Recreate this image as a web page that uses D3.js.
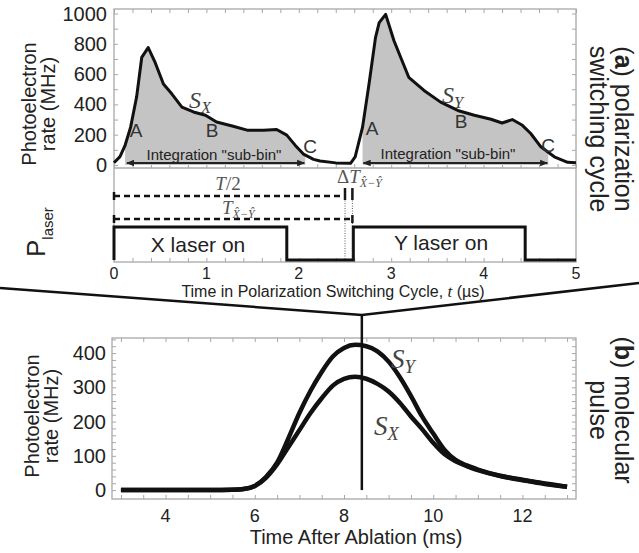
<!DOCTYPE html>
<html><head><meta charset="utf-8">
<script src="https://cdn.jsdelivr.net/npm/d3@7"></script>
<style>body{margin:0;background:#fff}svg{display:block}</style>
</head><body>
<svg id="c" width="639" height="553"></svg>
<script>
// ---- Data: panel (a) polarization switching cycle ----
const timeTop = [0, 0.065, 0.12, 0.18, 0.245, 0.30, 0.37, 0.445, 0.535, 0.625, 0.735, 0.86, 0.99, 1.11, 1.29, 1.44, 1.62, 1.76, 1.87, 1.96, 2.05, 2.16, 2.23, 2.40, 2.56, 2.61, 2.69, 2.76, 2.83, 2.87, 2.94, 3.03, 3.19, 3.355, 3.535, 3.72, 3.90, 4.08, 4.20, 4.31, 4.42, 4.51, 4.62, 4.765, 4.91, 5.0];
const rateTop = [15, 55, 130, 250, 450, 710, 775, 677, 535, 470, 382, 350, 328, 284, 256, 230, 230, 234, 197, 131, 72, 37, 26, 14, 11, 54, 250, 535, 841, 940, 994, 820, 579, 492, 415, 360, 328, 302, 277, 300, 262, 208, 120, 54, 18, 15];
const subBinX = [0.12, 2.07];
const subBinY = [2.69, 4.70];
const laserT = [0, 0, 1.87, 1.87, 2.59, 2.59, 4.45, 4.45, 5];
const laserP = [0, 1, 1, 0, 0, 1, 1, 0, 0];
const halfPeriod = 2.5;
const tXY = 2.58;
const topXTicks = [0, 1, 2, 3, 4, 5];
const topYTicks = [0, 200, 400, 600, 800, 1000];
// ---- Data: panel (b) molecular pulse ----
const timeB = [3, 4, 5, 5.5, 5.75, 6, 6.25, 6.5, 6.75, 7, 7.25, 7.5, 7.75, 8, 8.25, 8.5, 8.75, 9, 9.25, 9.5, 9.75, 10, 10.25, 10.5, 10.75, 11, 11.5, 12, 12.5, 13];
const sY = [0, 0, 0, 1, 3, 12, 38, 80, 150, 225, 290, 345, 390, 415, 424, 420, 405, 375, 330, 275, 215, 165, 118, 88, 72, 60, 42, 30, 19, 10];
const sX = [0, 0, 0, 1, 3, 12, 36, 75, 125, 175, 225, 268, 305, 325, 331, 325, 310, 288, 255, 215, 178, 138, 105, 84, 70, 58, 41, 29, 18, 10];
const markTime = 8.4;
const botXTicks = [4, 6, 8, 10, 12];
const botYTicks = [0, 100, 200, 300, 400];

const svg = d3.select("#c");
svg.append("rect").attr("width",639).attr("height",553).attr("fill","#fff");
const SANS = "Liberation Sans, Arial, Helvetica, sans-serif";
const SERIF = "Liberation Serif, Times New Roman, serif";
const frameCol = "#a8a8a8";

// ---------- Panel (a) ----------
const L = 114, R = 576, T0 = 9, DIV = 168, B0 = 262;
const xA = d3.scaleLinear().domain([0, 5]).range([L, R]);
const yA = d3.scaleLinear().domain([0, 1000]).range([165, 13.5]);
const yP = d3.scaleLinear().domain([0, 1]).range([260, 227]);

const gA = svg.append("g");
function ticksAxis(g, axis, tx, ty){
  const a = g.append("g").attr("transform",`translate(${tx},${ty})`).call(axis);
  a.select(".domain").remove();
  a.selectAll(".tick line").attr("stroke", frameCol).attr("stroke-width",1);
  return a;
}
const minorA = d3.range(0, 5.001, 0.2);
ticksAxis(gA, d3.axisTop(xA).tickValues(minorA).tickSize(-4).tickFormat(""), 0, T0);
ticksAxis(gA, d3.axisBottom(xA).tickValues(minorA).tickSize(-4).tickFormat(""), 0, DIV);
ticksAxis(gA, d3.axisBottom(xA).tickValues(minorA).tickSize(-4).tickFormat(""), 0, B0);
const yMinorA = d3.range(0, 1001, 100);
ticksAxis(gA, d3.axisLeft(yA).tickValues(yMinorA).tickSize(-4).tickFormat(""), L, 0);
ticksAxis(gA, d3.axisRight(yA).tickValues(yMinorA).tickSize(-4).tickFormat(""), R, 0);

// fills
const ptsTop = timeTop.map((t,i)=>[t, rateTop[i]]);
const area = d3.area().x(d=>xA(d[0])).y0(yA(0)).y1(d=>yA(d[1]));
[subBinX, subBinY].forEach((sb,i)=>{
  const id = "clipSB"+i;
  svg.append("clipPath").attr("id", id).append("rect")
    .attr("x", xA(sb[0])).attr("y", 0).attr("width", xA(sb[1])-xA(sb[0])).attr("height", 200);
  gA.append("path").datum(ptsTop).attr("d", area).attr("fill", "#c4c4c4").attr("clip-path", `url(#${id})`);
});

// frame
gA.append("rect").attr("x",L).attr("y",T0).attr("width",R-L).attr("height",B0-T0)
  .attr("fill","none").attr("stroke",frameCol).attr("stroke-width",1.3);
gA.append("line").attr("x1",L).attr("x2",R).attr("y1",DIV).attr("y2",DIV).attr("stroke",frameCol).attr("stroke-width",1.3);

// arrows
const defs = svg.append("defs");
defs.append("marker").attr("id","ah").attr("viewBox","0 0 10 10").attr("refX",9).attr("refY",5)
  .attr("markerWidth",4).attr("markerHeight",4).attr("orient","auto-start-reverse")
  .append("path").attr("d","M0,1 L10,5 L0,9 Z").attr("fill","#222");
[[0.14,2.06],[2.70,4.69]].forEach(r=>{
  gA.append("line").attr("x1",xA(r[0])).attr("x2",xA(r[1])).attr("y1",163).attr("y2",163)
    .attr("stroke","#222").attr("stroke-width",2)
    .attr("marker-start","url(#ah)").attr("marker-end","url(#ah)");
});
[[214,160],[448,159]].forEach(p=>{
  gA.append("text").attr("x",p[0]).attr("y",p[1]).attr("text-anchor","middle")
    .attr("font-family",SANS).attr("font-size",15).attr("fill","#222").text('Integration "sub-bin"');
});

// curve
gA.append("path").datum(ptsTop).attr("d", d3.line().x(d=>xA(d[0])).y(d=>yA(d[1])))
  .attr("fill","none").attr("stroke","#111").attr("stroke-width",3).attr("stroke-linejoin","round");

// A B C labels
[["A",136,137],["B",212,137],["C",310,153],["A",372,135],["B",461,128],["C",548,152]].forEach(d=>{
  gA.append("text").attr("x",d[1]).attr("y",d[2]).attr("text-anchor","middle")
    .attr("font-family",SANS).attr("font-size",19).attr("fill","#333").text(d[0]);
});
function sLabel(g, x, y, sub, fs){
  const t = g.append("text").attr("x",x).attr("y",y).attr("font-family",SERIF).attr("font-style","italic")
    .attr("font-size",fs).attr("fill","#444");
  t.append("tspan").text("S");
  t.append("tspan").attr("dy",fs*0.2).attr("font-size",fs*0.68).text(sub);
}
sLabel(gA, 189, 108, "X", 24);
sLabel(gA, 442, 103, "Y", 24);

// laser pulses
const laserPts = laserT.map((t,i)=>[t, laserP[i]]);
gA.append("path").datum(laserPts).attr("d", d3.line().x(d=>xA(d[0])).y(d=>yP(d[1])))
  .attr("fill","none").attr("stroke","#111").attr("stroke-width",3);
gA.append("text").attr("x",198).attr("y",252).attr("text-anchor","middle")
  .attr("font-family",SANS).attr("font-size",21).attr("fill","#222").text("X laser on");
gA.append("text").attr("x",441).attr("y",250).attr("text-anchor","middle")
  .attr("font-family",SANS).attr("font-size",21).attr("fill","#222").text("Y laser on");

// dashed timing lines
const yHalf = 196, yTxy = 219;
gA.append("line").attr("x1",xA(0)).attr("x2",xA(halfPeriod)).attr("y1",yHalf).attr("y2",yHalf)
  .attr("stroke","#111").attr("stroke-width",2.5).attr("stroke-dasharray","6,4");
gA.append("line").attr("x1",xA(0)).attr("x2",xA(tXY)).attr("y1",yTxy).attr("y2",yTxy)
  .attr("stroke","#111").attr("stroke-width",2.5).attr("stroke-dasharray","6,4");
[[0,192,200],[0,215,223],[halfPeriod,188,200],[tXY,188,200],[tXY,215,223]].forEach(d=>{
  gA.append("line").attr("x1",xA(d[0])).attr("x2",xA(d[0])).attr("y1",d[1]).attr("y2",d[2])
    .attr("stroke","#111").attr("stroke-width",2.5);
});
[halfPeriod, tXY].forEach(t=>{
  gA.append("line").attr("x1",xA(t)).attr("x2",xA(t)).attr("y1",188).attr("y2",260)
    .attr("stroke","#333").attr("stroke-width",0.8).attr("stroke-dasharray","1,1.5");
});
const mathCol = "#555";
const th = gA.append("text").attr("x",228).attr("y",190).attr("text-anchor","middle")
  .attr("font-family",SERIF).attr("font-style","italic").attr("font-size",19).attr("fill",mathCol);
th.append("tspan").text("T");
th.append("tspan").attr("font-style","normal").text("/2");
const tx = gA.append("text").attr("x",222).attr("y",214)
  .attr("font-family",SERIF).attr("font-style","italic").attr("font-size",19).attr("fill",mathCol);
tx.append("tspan").text("T");
tx.append("tspan").attr("dy",4).attr("font-size",12).text("X\u0302\u2212Y\u0302");
const dt = gA.append("text").attr("x",337).attr("y",183)
  .attr("font-family",SERIF).attr("font-size",19).attr("fill",mathCol);
dt.append("tspan").text("\u0394");
dt.append("tspan").attr("font-style","italic").text("T");
dt.append("tspan").attr("dy",4).attr("font-style","italic").attr("font-size",12).text("X\u0302\u2212Y\u0302");

// axes labels (a)
gA.selectAll(".ytl").data(topYTicks).join("text").attr("x",107).attr("y",d=>yA(d)+7)
  .attr("text-anchor","end").attr("font-family",SANS).attr("font-size",20).attr("fill","#222").text(d=>d);
gA.selectAll(".xtl").data(topXTicks).join("text").attr("x",d=>xA(d)).attr("y",279)
  .attr("text-anchor","middle").attr("font-family",SANS).attr("font-size",16).attr("fill","#222").text(d=>d);
const xt = gA.append("text").attr("x",333).attr("y",297).attr("text-anchor","middle")
  .attr("font-family",SANS).attr("font-size",16).attr("fill","#222");
xt.append("tspan").text("Time in Polarization Switching Cycle, ");
xt.append("tspan").attr("font-family",SERIF).attr("font-style","italic").attr("font-size",17).text("t");
xt.append("tspan").text(" (\u00b5s)");
function yTitle(g, cx, cy){
  const t = g.append("text").attr("transform",`translate(${cx},${cy}) rotate(-90)`).attr("text-anchor","middle")
    .attr("font-family",SANS).attr("font-size",20).attr("fill","#222");
  t.append("tspan").attr("x",0).attr("y",-19).text("Photoelectron");
  t.append("tspan").attr("x",0).attr("y",0).text("rate (MHz)");
}
yTitle(gA, 55, 104);
const pl = gA.append("text").attr("transform","translate(45,257) rotate(-90)")
  .attr("font-family",SANS).attr("font-size",26).attr("fill","#222");
pl.append("tspan").text("P");
pl.append("tspan").attr("dy",8).attr("font-size",15).text("laser");

// side labels
function sideLabel(cy, bold, rest, line2){
  const t = svg.append("text").attr("transform",`translate(615,${cy}) rotate(90)`).attr("text-anchor","middle")
    .attr("font-family",SANS).attr("font-size",25).attr("fill","#222");
  const l1 = t.append("tspan").attr("x",0).attr("y",0);
  l1.append("tspan").text("(");
  l1.append("tspan").attr("font-weight","bold").text(bold);
  l1.append("tspan").text(") " + rest);
  t.append("tspan").attr("x",0).attr("y",25).text(line2);
}
sideLabel(129, "a", "polarization", "switching cycle");
sideLabel(410, "b", "molecular", "pulse");

// ---------- Panel (b) ----------
const L2 = 112, R2 = 576, T2 = 338, B2 = 499;
const xB = d3.scaleLinear().domain([2.8, 13.2]).range([L2, R2]);
const yB = d3.scaleLinear().domain([-26, 444]).range([B2, T2]);
const gB = svg.append("g");
const xMinorB = d3.range(3, 13.01, 0.5);
ticksAxis(gB, d3.axisTop(xB).tickValues(xMinorB).tickSize(-4).tickFormat(""), 0, T2);
ticksAxis(gB, d3.axisBottom(xB).tickValues(xMinorB).tickSize(-4).tickFormat(""), 0, B2);
const yMinorB = d3.range(0, 441, 20);
ticksAxis(gB, d3.axisLeft(yB).tickValues(yMinorB).tickSize(-4).tickFormat(""), L2, 0);
ticksAxis(gB, d3.axisRight(yB).tickValues(yMinorB).tickSize(-4).tickFormat(""), R2, 0);
gB.append("rect").attr("x",L2).attr("y",T2).attr("width",R2-L2).attr("height",B2-T2)
  .attr("fill","none").attr("stroke",frameCol).attr("stroke-width",1.3);

const lineB = d3.line().x(d=>xB(d[0])).y(d=>yB(d[1])).curve(d3.curveMonotoneX);
[sY, sX].forEach(s=>{
  gB.append("path").datum(timeB.map((t,i)=>[t, s[i]])).attr("d", lineB)
    .attr("fill","none").attr("stroke","#111").attr("stroke-width",4.5).attr("stroke-linejoin","round");
});
sLabel(gB, 391, 368, "Y", 27);
sLabel(gB, 374, 435, "X", 27);

gB.selectAll(".ytl").data(botYTicks).join("text").attr("x",106).attr("y",d=>yB(d)+7)
  .attr("text-anchor","end").attr("font-family",SANS).attr("font-size",20).attr("fill","#222").text(d=>d);
gB.selectAll(".xtl").data(botXTicks).join("text").attr("x",d=>xB(d)).attr("y",522)
  .attr("text-anchor","middle").attr("font-family",SANS).attr("font-size",18).attr("fill","#222").text(d=>d);
gB.append("text").attr("x",356).attr("y",544).attr("text-anchor","middle")
  .attr("font-family",SANS).attr("font-size",20).attr("fill","#222").text("Time After Ablation (ms)");
yTitle(gB, 58, 416);

// zoom connector lines and marker
const mx = xB(markTime);
svg.append("path").attr("d",`M0,288 L${mx},315 L639,283`).attr("fill","none")
  .attr("stroke","#111").attr("stroke-width",2.5);
svg.append("line").attr("x1",mx).attr("x2",mx).attr("y1",315).attr("y2",yB(0))
  .attr("stroke","#111").attr("stroke-width",2.5);
</script>
</body></html>
